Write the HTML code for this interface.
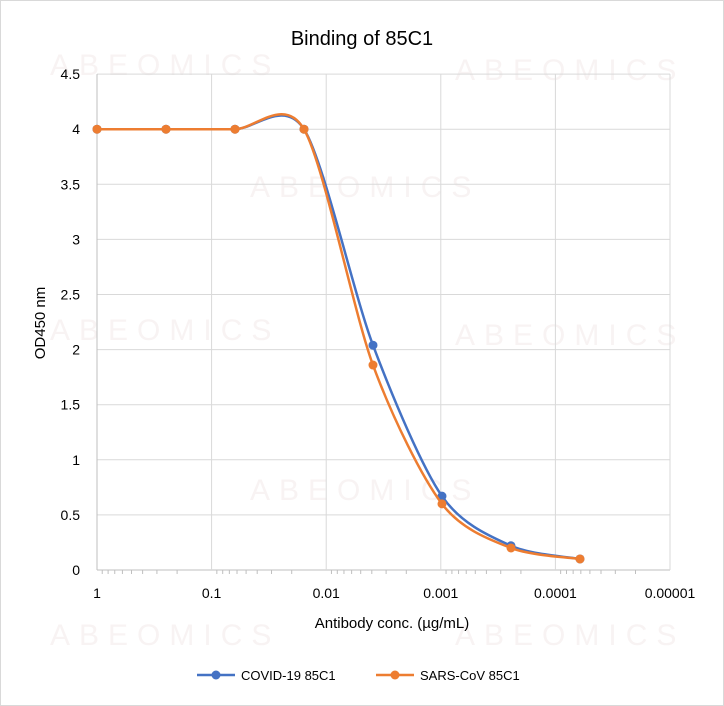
<!DOCTYPE html>
<html><head><meta charset="utf-8"><style>
body{margin:0;background:#fff}
svg{display:block;font-family:"Liberation Sans",Calibri,sans-serif}
</style></head><body>
<svg id="s" width="724" height="706" viewBox="0 0 724 706">
<rect x="0.5" y="0.5" width="723" height="705" fill="#fff" stroke="#d9d9d9"/>
<g fill="#f8f3f3" font-size="30" letter-spacing="9">
<text x="50" y="75">ABEOMICS</text><text x="455" y="80">ABEOMICS</text>
<text x="250" y="197">ABEOMICS</text>
<text x="50" y="340">ABEOMICS</text><text x="455" y="345">ABEOMICS</text>
<text x="250" y="500">ABEOMICS</text>
<text x="50" y="645">ABEOMICS</text><text x="455" y="645">ABEOMICS</text>
</g>
<text x="362" y="45" text-anchor="middle" font-size="20" fill="#000">Binding of 85C1</text>
<g id="grid" stroke="#d9d9d9" stroke-width="1"></g>
<g id="lab" font-size="14" fill="#000"></g>
<text x="392" y="628" text-anchor="middle" font-size="15">Antibody conc. (µg/mL)</text>
<text transform="translate(45,323) rotate(-90)" text-anchor="middle" font-size="15">OD450 nm</text>
<g id="ser"></g>
<g font-size="13">
<line x1="197" y1="675" x2="235" y2="675" stroke="#4472c4" stroke-width="2.5"/><circle cx="216" cy="675" r="4.5" fill="#4472c4"/>
<text x="241" y="680">COVID-19 85C1</text>
<line x1="376" y1="675" x2="414" y2="675" stroke="#ed7d31" stroke-width="2.5"/><circle cx="395" cy="675" r="4.5" fill="#ed7d31"/>
<text x="420" y="680">SARS-CoV 85C1</text>
</g>
</svg>
<script>
const NS="http://www.w3.org/2000/svg";
const X0=97,DX=114.6,Y0=570,YS=110.2/1;
const px=v=>X0-Math.log10(v)*DX, py=v=>Y0-v*YS;
const g=document.getElementById('grid'),lab=document.getElementById('lab');
function el(t,a,p){const e=document.createElementNS(NS,t);for(const k in a)e.setAttribute(k,a[k]);p.appendChild(e);return e;}
for(let i=0;i<=9;i++){const y=py(i*0.5);el('line',{x1:X0,x2:670,y1:y,y2:y,stroke:i?'#d9d9d9':'#bfbfbf'},g);
 const t=el('text',{x:80,y:y+5,'text-anchor':'end'},lab);t.textContent=i*0.5;}
const xl=["1","0.1","0.01","0.001","0.0001","0.00001"];
for(let d=0;d<=5;d++){const x=X0+d*DX;el('line',{x1:x,x2:x,y1:py(4.5),y2:Y0,stroke:d?'#d9d9d9':'#bfbfbf'},g);
 const t=el('text',{x:x,y:Y0+28,'text-anchor':'middle'},lab);t.textContent=xl[d];
 if(d<5)for(let m=2;m<=9;m++){const xx=x+DX*(1-Math.log10(m));el('line',{x1:xx,x2:xx,y1:Y0,y2:Y0+4,stroke:'#bfbfbf'},g);}}
const xs=[1,0.25,0.0625,0.015625,0.00390625,0.0009765625,0.000244,0.000061];
const S=[["#4472c4",[4,4,4,4,2.04,0.67,0.22,0.1]],["#ed7d31",[4,4,4,4,1.86,0.6,0.2,0.1]]];
const ser=document.getElementById('ser');
const T=7;
for(const [c,ys] of S){const P=xs.map((x,i)=>[px(x),py(ys[i])]);
 let d=`M${P[0][0]},${P[0][1]}`;
 for(let i=0;i<P.length-1;i++){const p0=P[i-1]||P[i],p1=P[i],p2=P[i+1],p3=P[i+2]||P[i+1];
  d+=` C${p1[0]+(p2[0]-p0[0])/T},${p1[1]+(p2[1]-p0[1])/T} ${p2[0]-(p3[0]-p1[0])/T},${p2[1]-(p3[1]-p1[1])/T} ${p2[0]},${p2[1]}`;}
 el('path',{d:d,fill:'none',stroke:c,'stroke-width':2.5},ser);
 P.forEach(p=>el('circle',{cx:p[0],cy:p[1],r:4.5,fill:c},ser));}
</script>
</body></html>
